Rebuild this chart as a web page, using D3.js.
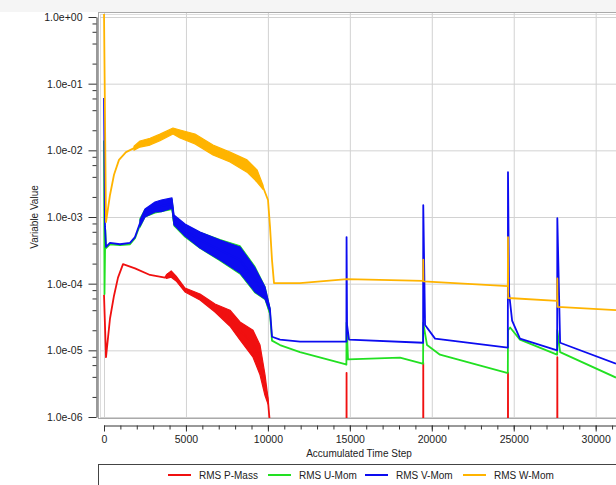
<!DOCTYPE html>
<html>
<head>
<meta charset="utf-8">
<script src="https://cdn.jsdelivr.net/npm/d3@7"></script>
<style>
  body { margin: 0; background: #fff; }
  text { font-family: "Liberation Sans", Arial, sans-serif; }
</style>
</head>
<body>
<div id="chart"></div>
<script>
// axis ticks
var stepTicks = [0, 5000, 10000, 15000, 20000, 25000, 30000];
var minorStepTicks = d3.range(0, 31001, 1000);
var decadeTicks = [1e-6, 1e-5, 1e-4, 1e-3, 1e-2, 1e-1, 1];
var minorDecadeTicks = [];
decadeTicks.slice(0, 6).forEach(function(d) {
    [2, 4, 6, 8].forEach(function(m) { minorDecadeTicks.push(d * m); });
});

// legend
var seriesNames = ["RMS P-Mass", "RMS U-Mom", "RMS V-Mom", "RMS W-Mom"];
var seriesColors = ["#f01010", "#22e022", "#0c0cf0", "#ffb400"];

// series: [step, value]   bands (noisy part): [step, low, high]
var pMass = [[0, 6.8e-5], [122, 7.9e-6], [366, 3.0e-5], [610, 6.6e-5], [854, 1.23e-4], [1160, 1.96e-4],
    [1892, 1.7e-4], [2807, 1.35e-4], [3722, 1.23e-4], [3900, 1.4e-4], [4100, 1.45e-4], [4400, 1.2e-4], [4943, 8.1e-5],
    [5858, 6.3e-5], [6773, 4.3e-5], [7689, 3.05e-5], [8299, 1.95e-5], [9092, 1.29e-5], [9519, 7.2e-6],
    [9824, 3.0e-6], [10007, 1.74e-6], [10190, 5e-7],
    [14790, 5e-8], [14800, 4.6e-6], [14810, 5e-8],
    [19470, 5e-8], [19480, 6.5e-6], [19490, 5e-8],
    [24640, 5e-8], [24650, 4.6e-6], [24660, 5e-8],
    [27650, 5e-8], [27660, 7.9e-6], [27670, 5e-8], [31240, 5e-8]];
var pMassBand = [[3800, 1.2e-4, 1.35e-4], [4100, 1.25e-4, 1.55e-4], [4400, 1.1e-4, 1.3e-4], [4943, 7.5e-5, 8.6e-5],
    [5858, 5.7e-5, 7.0e-5], [6773, 3.76e-5, 4.95e-5], [7689, 2.3e-5, 4.0e-5],
    [8299, 1.43e-5, 2.66e-5], [9092, 7.9e-6, 2.0e-5], [9519, 4.3e-6, 1.2e-5], [9824, 2.1e-6, 4.3e-6],
    [10007, 1.57e-6, 1.9e-6]];

var uMom = [[0, 1.4e-2], [30, 7e-5], [80, 6.5e-4], [122, 3.4e-4], [366, 3.9e-4], [976, 3.8e-4], [1587, 3.9e-4],
    [1892, 4.8e-4], [2197, 7.6e-4], [2502, 1.1e-3], [3112, 1.35e-3], [3722, 1.45e-3], [4149, 1.5e-3],
    [4271, 8.0e-4], [4943, 5.9e-4], [5858, 4.4e-4], [7078, 3.2e-4], [8299, 2.3e-4], [9214, 1.1e-4],
    [9824, 6.8e-5], [10129, 3.6e-5], [10251, 1.4e-5], [10739, 1.2e-5], [11960, 9.4e-6], [14710, 6.2e-6],
    [14790, 6.1e-6], [14800, 2.6e-5], [14890, 7.3e-6], [18060, 7.8e-6], [19440, 6.3e-6],
    [19470, 6.3e-6], [19480, 2.6e-5], [19710, 1.2e-5], [20500, 8.6e-6], [24590, 4.6e-6],
    [24640, 4.6e-6], [24650, 2.0e-5], [24780, 2.2e-5], [25380, 1.45e-5], [27640, 8.6e-6],
    [27650, 8.6e-6], [27660, 2.0e-5], [27830, 9.4e-6], [31240, 3.9e-6]];
var uMomBand = [[2197, 7.0e-4, 9.5e-4], [2502, 1.0e-3, 1.3e-3], [3112, 1.15e-3, 1.6e-3], [4149, 1.3e-3, 1.85e-3],
    [4271, 7.4e-4, 1.0e-3], [4943, 5.0e-4, 7.6e-4], [5858, 3.4e-4, 5.9e-4], [7078, 2.2e-4, 4.6e-4],
    [8299, 1.4e-4, 3.7e-4], [9214, 7.3e-5, 1.8e-4], [9824, 5.8e-5, 9.0e-5], [10129, 3.4e-5, 4.2e-5]];

var vMom = [[0, 6.1e-2], [61, 7.1e-4], [122, 3.55e-4], [366, 4.1e-4], [976, 3.9e-4], [1587, 4.1e-4],
    [1892, 5.0e-4], [2197, 8.1e-4], [2502, 1.17e-3], [3112, 1.4e-3], [3722, 1.5e-3], [4149, 1.6e-3],
    [4271, 8.9e-4], [4943, 6.3e-4], [5858, 4.5e-4], [7078, 3.2e-4], [8299, 2.26e-4], [9214, 1.13e-4],
    [9824, 7.3e-5], [10129, 4.0e-5], [10251, 1.6e-5], [10739, 1.45e-5], [11960, 1.35e-5], [14790, 1.35e-5],
    [14800, 5.0e-4], [14830, 2.4e-5], [14950, 1.45e-5], [19470, 1.3e-5],
    [19480, 1.5e-3], [19590, 2.4e-5], [20200, 1.5e-5], [24640, 1.1e-5],
    [24650, 4.7e-3], [24715, 7.3e-5], [24900, 2.8e-5], [25380, 1.5e-5], [27650, 1.0e-5],
    [27660, 9.6e-4], [27830, 1.3e-5], [31240, 6.3e-6]];
var vMomBand = [[2197, 7.3e-4, 9.0e-4], [2502, 1.0e-3, 1.32e-3], [3112, 1.19e-3, 1.68e-3], [3500, 1.2e-3, 1.8e-3],
    [4149, 1.36e-3, 1.93e-3], [4271, 7.6e-4, 1.07e-3], [4943, 5.19e-4, 7.85e-4], [5858, 3.43e-4, 5.96e-4],
    [7078, 2.26e-4, 4.52e-4], [8299, 1.45e-4, 3.55e-4], [9214, 7.5e-5, 1.72e-4], [9824, 5.9e-5, 8.9e-5],
    [10129, 3.76e-5, 4.3e-5]];

var wMom = [[0, 1.2], [122, 8.4e-4], [366, 2.14e-3], [610, 4.3e-3], [915, 7.2e-3], [1342, 9.4e-3], [1831, 1.08e-2],
    [2807, 1.33e-2], [3417, 1.58e-2], [4210, 1.95e-2], [4637, 1.76e-2], [5553, 1.48e-2], [6651, 1.01e-2],
    [7689, 7.9e-3], [8726, 5.8e-3], [9336, 4.1e-3], [9702, 2.82e-3], [10007, 1.8e-3], [10129, 7.1e-4],
    [10251, 2.26e-4], [10373, 1.02e-4], [11958, 1.02e-4], [14826, 1.17e-4], [19470, 1.1e-4],
    [19480, 2.3e-4], [19490, 1.08e-4], [24640, 9.2e-5], [24650, 5.0e-4], [24660, 6.1e-5],
    [27650, 5.5e-5], [27660, 1.2e-4], [27670, 4.5e-5], [31240, 4.0e-5]];
var wMomBand = [[1831, 1.0e-2, 1.15e-2], [2197, 1.12e-2, 1.38e-2], [2807, 1.2e-2, 1.52e-2], [3417, 1.4e-2, 1.75e-2],
    [4210, 1.76e-2, 2.16e-2], [4637, 1.53e-2, 2.02e-2], [5553, 1.25e-2, 1.76e-2], [6651, 8.5e-3, 1.2e-2],
    [7689, 6.7e-3, 9.4e-3], [8726, 4.7e-3, 7.2e-3], [9336, 3.35e-3, 5.1e-3], [9702, 2.6e-3, 3.0e-3]];

var seriesData = [pMass, uMom, vMom, wMom];
var seriesBands = [pMassBand, uMomBand, vMomBand, wMomBand];

var width = 616;
var height = 485;

var x = d3.scaleLinear().domain([0, 31240]).range([104, 616]);
var y = d3.scaleLog().domain([1e-6, 1]).range([417, 17]);

var svg = d3.select("#chart")
    .append("svg")
    .attr("width", width)
    .attr("height", height);

// grey strip on top of the plot frame
svg.append("rect")
    .attr("x", 0).attr("y", 0)
    .attr("width", width).attr("height", 12)
    .style("fill", "#f5f5f5");

svg.append("defs").append("clipPath")
    .attr("id", "plotclip")
    .append("rect")
    .attr("x", 100).attr("y", 14)
    .attr("width", 520).attr("height", 404);

// frame of plot area
svg.append("rect")
    .attr("x", 98.5).attr("y", 12.5)
    .attr("width", 600).attr("height", 406)
    .style("fill", "none")
    .style("stroke", "#aaa");
svg.append("line")
    .attr("x1", 100.5).attr("x2", 100.5)
    .attr("y1", 14).attr("y2", 418)
    .style("stroke", "#ddd");
svg.append("line")
    .attr("x1", 100).attr("x2", 616)
    .attr("y1", 14.5).attr("y2", 14.5)
    .style("stroke", "#ddd");

// grid lines
svg.append("g").selectAll("line")
    .data(stepTicks)
    .enter().append("line")
    .attr("x1", function(d) { return x(d) + 0.5; })
    .attr("x2", function(d) { return x(d) + 0.5; })
    .attr("y1", 13).attr("y2", 418)
    .style("stroke", "#d2d2d2");

svg.append("g").selectAll("line")
    .data(decadeTicks)
    .enter().append("line")
    .attr("x1", 100).attr("x2", 616)
    .attr("y1", function(d) { return y(d) + 0.5; })
    .attr("y2", function(d) { return y(d) + 0.5; })
    .style("stroke", "#d2d2d2");

// curves
var plot = svg.append("g").attr("clip-path", "url(#plotclip)");

var line = d3.line()
    .x(function(d) { return x(d[0]); })
    .y(function(d) { return y(d[1]); });

var band = d3.area()
    .x(function(d) { return x(d[0]); })
    .y0(function(d) { return y(d[1]); })
    .y1(function(d) { return y(d[2]); });

seriesData.forEach(function(s, i) {
    plot.append("path")
        .attr("d", band(seriesBands[i]))
        .style("fill", seriesColors[i])
        .style("stroke", seriesColors[i])
        .style("stroke-width", 1.2)
        .style("stroke-linejoin", "round");
    plot.append("path")
        .attr("d", line(s))
        .style("fill", "none")
        .style("stroke", seriesColors[i])
        .style("stroke-width", 1.8)
        .style("stroke-linejoin", "round");
});

// y axis
function expFormat(v) {
    var e = Math.round(Math.log10(v));
    var a = Math.abs(e);
    return "1.0e" + (e < 0 ? "-" : "+") + (a < 10 ? "0" : "") + a;
}

var yAxis = svg.append("g")
    .attr("class", "y axis")
    .attr("transform", "translate(96.5,0)")
    .call(d3.axisLeft(y).tickValues(decadeTicks).tickFormat(expFormat).tickSize(8).tickSizeOuter(0).tickPadding(6));

svg.append("g")
    .attr("transform", "translate(96.5,0)")
    .call(d3.axisLeft(y).tickValues(minorDecadeTicks).tickFormat("").tickSize(4).tickSizeOuter(0))
    .select(".domain").remove();

// x axis
var xAxis = svg.append("g")
    .attr("class", "x axis")
    .attr("transform", "translate(0,425.5)")
    .call(d3.axisBottom(x).tickValues(stepTicks).tickFormat(d3.format("d")).tickSize(6).tickSizeOuter(0).tickPadding(4));

svg.append("g")
    .attr("transform", "translate(0,425.5)")
    .call(d3.axisBottom(x).tickValues(minorStepTicks).tickFormat("").tickSize(4).tickSizeOuter(0))
    .select(".domain").remove();

svg.selectAll(".axis text")
    .style("font-size", "10.5px")
    .style("fill", "#222");
svg.selectAll(".tick line, .domain").style("stroke", "#333");

// axis titles
svg.append("text")
    .attr("x", 359)
    .attr("y", 457)
    .attr("text-anchor", "middle")
    .style("font-size", "10px")
    .style("fill", "#222")
    .text("Accumulated Time Step");

svg.append("text")
    .attr("transform", "translate(38,217) rotate(-90)")
    .attr("text-anchor", "middle")
    .style("font-size", "10px")
    .style("fill", "#222")
    .text("Variable Value");

// legend
svg.append("rect")
    .attr("x", 98.5).attr("y", 464.5)
    .attr("width", 540).attr("height", 30)
    .style("fill", "#fff")
    .style("stroke", "#444");

var legendX = [168, 268, 365, 463];
var legend = svg.append("g").selectAll("g")
    .data(seriesNames)
    .enter().append("g")
    .attr("transform", function(d, i) { return "translate(" + legendX[i] + ",475)"; });

legend.append("line")
    .attr("x1", 0).attr("x2", 23)
    .style("stroke", function(d, i) { return seriesColors[i]; })
    .style("stroke-width", 2);

legend.append("text")
    .attr("x", 31)
    .attr("dy", "0.35em")
    .style("font-size", "10px")
    .style("fill", "#222")
    .text(function(d) { return d; });
</script>
</body>
</html>
